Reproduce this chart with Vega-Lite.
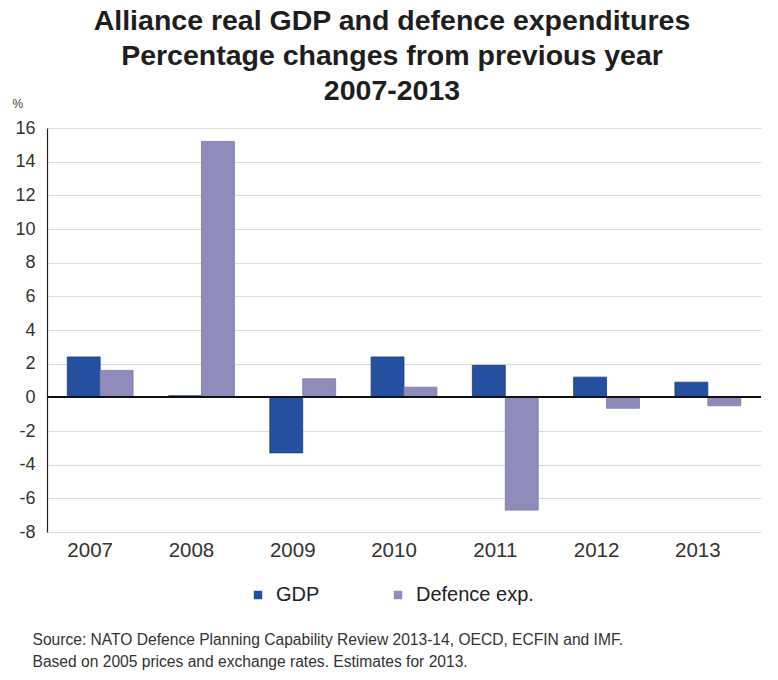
{
  "$schema": "https://vega.github.io/schema/vega-lite/v6.json",
  "autosize": {"type": "none"},
  "width": 714,
  "height": 404,
  "padding": {"left": 47, "top": 128, "right": 17, "bottom": 148},
  "background": "white",
  "title": {
    "text": ["Alliance real GDP and defence expenditures", "Percentage changes from previous year", "2007-2013"],
    "font": "Liberation Sans",
    "fontSize": 28.5,
    "fontWeight": "bold",
    "color": "#1e1e1e",
    "anchor": "middle",
    "lineHeight": 35,
    "dx": -12,
    "offset": -8
  },
  "data": {
    "values": [
      {"year": "2007", "series": "GDP", "value": 2.4},
      {"year": "2007", "series": "Defence exp.", "value": 1.6},
      {"year": "2008", "series": "GDP", "value": 0.1},
      {"year": "2008", "series": "Defence exp.", "value": 15.2},
      {"year": "2009", "series": "GDP", "value": -3.3},
      {"year": "2009", "series": "Defence exp.", "value": 1.1},
      {"year": "2010", "series": "GDP", "value": 2.4},
      {"year": "2010", "series": "Defence exp.", "value": 0.6},
      {"year": "2011", "series": "GDP", "value": 1.9},
      {"year": "2011", "series": "Defence exp.", "value": -6.7},
      {"year": "2012", "series": "GDP", "value": 1.2},
      {"year": "2012", "series": "Defence exp.", "value": -0.65},
      {"year": "2013", "series": "GDP", "value": 0.9},
      {"year": "2013", "series": "Defence exp.", "value": -0.5}
    ]
  },
  "layer": [
    {
      "mark": {"type": "bar", "strokeWidth": 0.8},
      "encoding": {
        "x": {
          "field": "year",
          "type": "ordinal",
          "scale": {"paddingInner": 0.35, "paddingOuter": 0.2},
          "axis": {
            "title": ["Source: NATO Defence Planning Capability Review 2013-14, OECD, ECFIN and IMF.", "Based on 2005 prices and exchange rates. Estimates for 2013."],
            "titleFont": "Liberation Sans",
            "titleFontSize": 15.6,
            "titleFontWeight": "normal",
            "titleColor": "#333333",
            "titleAlign": "left",
            "titleAnchor": "start",
            "titleBaseline": "top",
            "titleAngle": 0,
            "titleX": -15,
            "titleY": 100,
            "titleLineHeight": 22,
            "labelAngle": 0,
            "labelFont": "Liberation Sans",
            "labelFontSize": 20.5,
            "labelColor": "#333333",
            "labelPadding": 8,
            "labelOffset": -10,
            "domain": false,
            "ticks": false,
            "grid": false
          }
        },
        "xOffset": {"field": "series", "type": "nominal", "sort": ["GDP", "Defence exp."]},
        "y": {
          "field": "value",
          "type": "quantitative",
          "scale": {"domain": [-8, 16], "nice": false},
          "axis": {
            "values": [-8, -6, -4, -2, 0, 2, 4, 6, 8, 10, 12, 14, 16],
            "labelExpr": "'' + datum.value",
            "labelOverlap": false,
            "title": "%",
            "titleAngle": 0,
            "titleFont": "Liberation Sans",
            "titleFontSize": 12,
            "titleFontWeight": "normal",
            "titleColor": "#444444",
            "titleAlign": "left",
            "titleBaseline": "middle",
            "titleX": -35,
            "titleY": -25,
            "labelFont": "Liberation Sans",
            "labelFontSize": 18,
            "labelColor": "#333333",
            "labelPadding": 12,
            "domain": true,
            "domainColor": "#222222",
            "domainWidth": 1.2,
            "ticks": false,
            "grid": true,
            "gridColor": "#d9d9d9",
            "gridWidth": 1
          }
        },
        "color": {
          "field": "series",
          "type": "nominal",
          "sort": ["GDP", "Defence exp."],
          "scale": {"domain": ["GDP", "Defence exp."], "range": ["#24509f", "#8f8cbc"]},
          "legend": {
            "title": null,
            "orient": "none",
            "direction": "horizontal",
            "legendX": 201,
            "legendY": 457,
            "symbolType": "square",
            "symbolSize": 72,
            "symbolStrokeWidth": 0,
            "labelFont": "Liberation Sans",
            "labelFontSize": 20,
            "labelColor": "#222222",
            "labelOffset": 8,
            "columnPadding": 68
          }
        },
        "stroke": {
          "field": "series",
          "type": "nominal",
          "scale": {"domain": ["GDP", "Defence exp."], "range": ["#1a3f85", "#7a77a8"]},
          "legend": null
        }
      }
    },
    {
      "mark": {"type": "rule", "color": "#111111", "strokeWidth": 1.5},
      "encoding": {
        "y": {
          "datum": 0,
          "type": "quantitative",
          "axis": {
            "values": [-8, -6, -4, -2, 0, 2, 4, 6, 8, 10, 12, 14, 16],
            "labelExpr": "'' + datum.value",
            "labelOverlap": false,
            "title": "%",
            "titleAngle": 0,
            "titleFont": "Liberation Sans",
            "titleFontSize": 12,
            "titleFontWeight": "normal",
            "titleColor": "#444444",
            "titleAlign": "left",
            "titleBaseline": "middle",
            "titleX": -35,
            "titleY": -25,
            "labelFont": "Liberation Sans",
            "labelFontSize": 18,
            "labelColor": "#333333",
            "labelPadding": 12,
            "domain": true,
            "domainColor": "#222222",
            "domainWidth": 1.2,
            "ticks": false,
            "grid": true,
            "gridColor": "#d9d9d9",
            "gridWidth": 1
          }
        }
      }
    }
  ],
  "config": {
    "view": {"stroke": null}
  }
}
